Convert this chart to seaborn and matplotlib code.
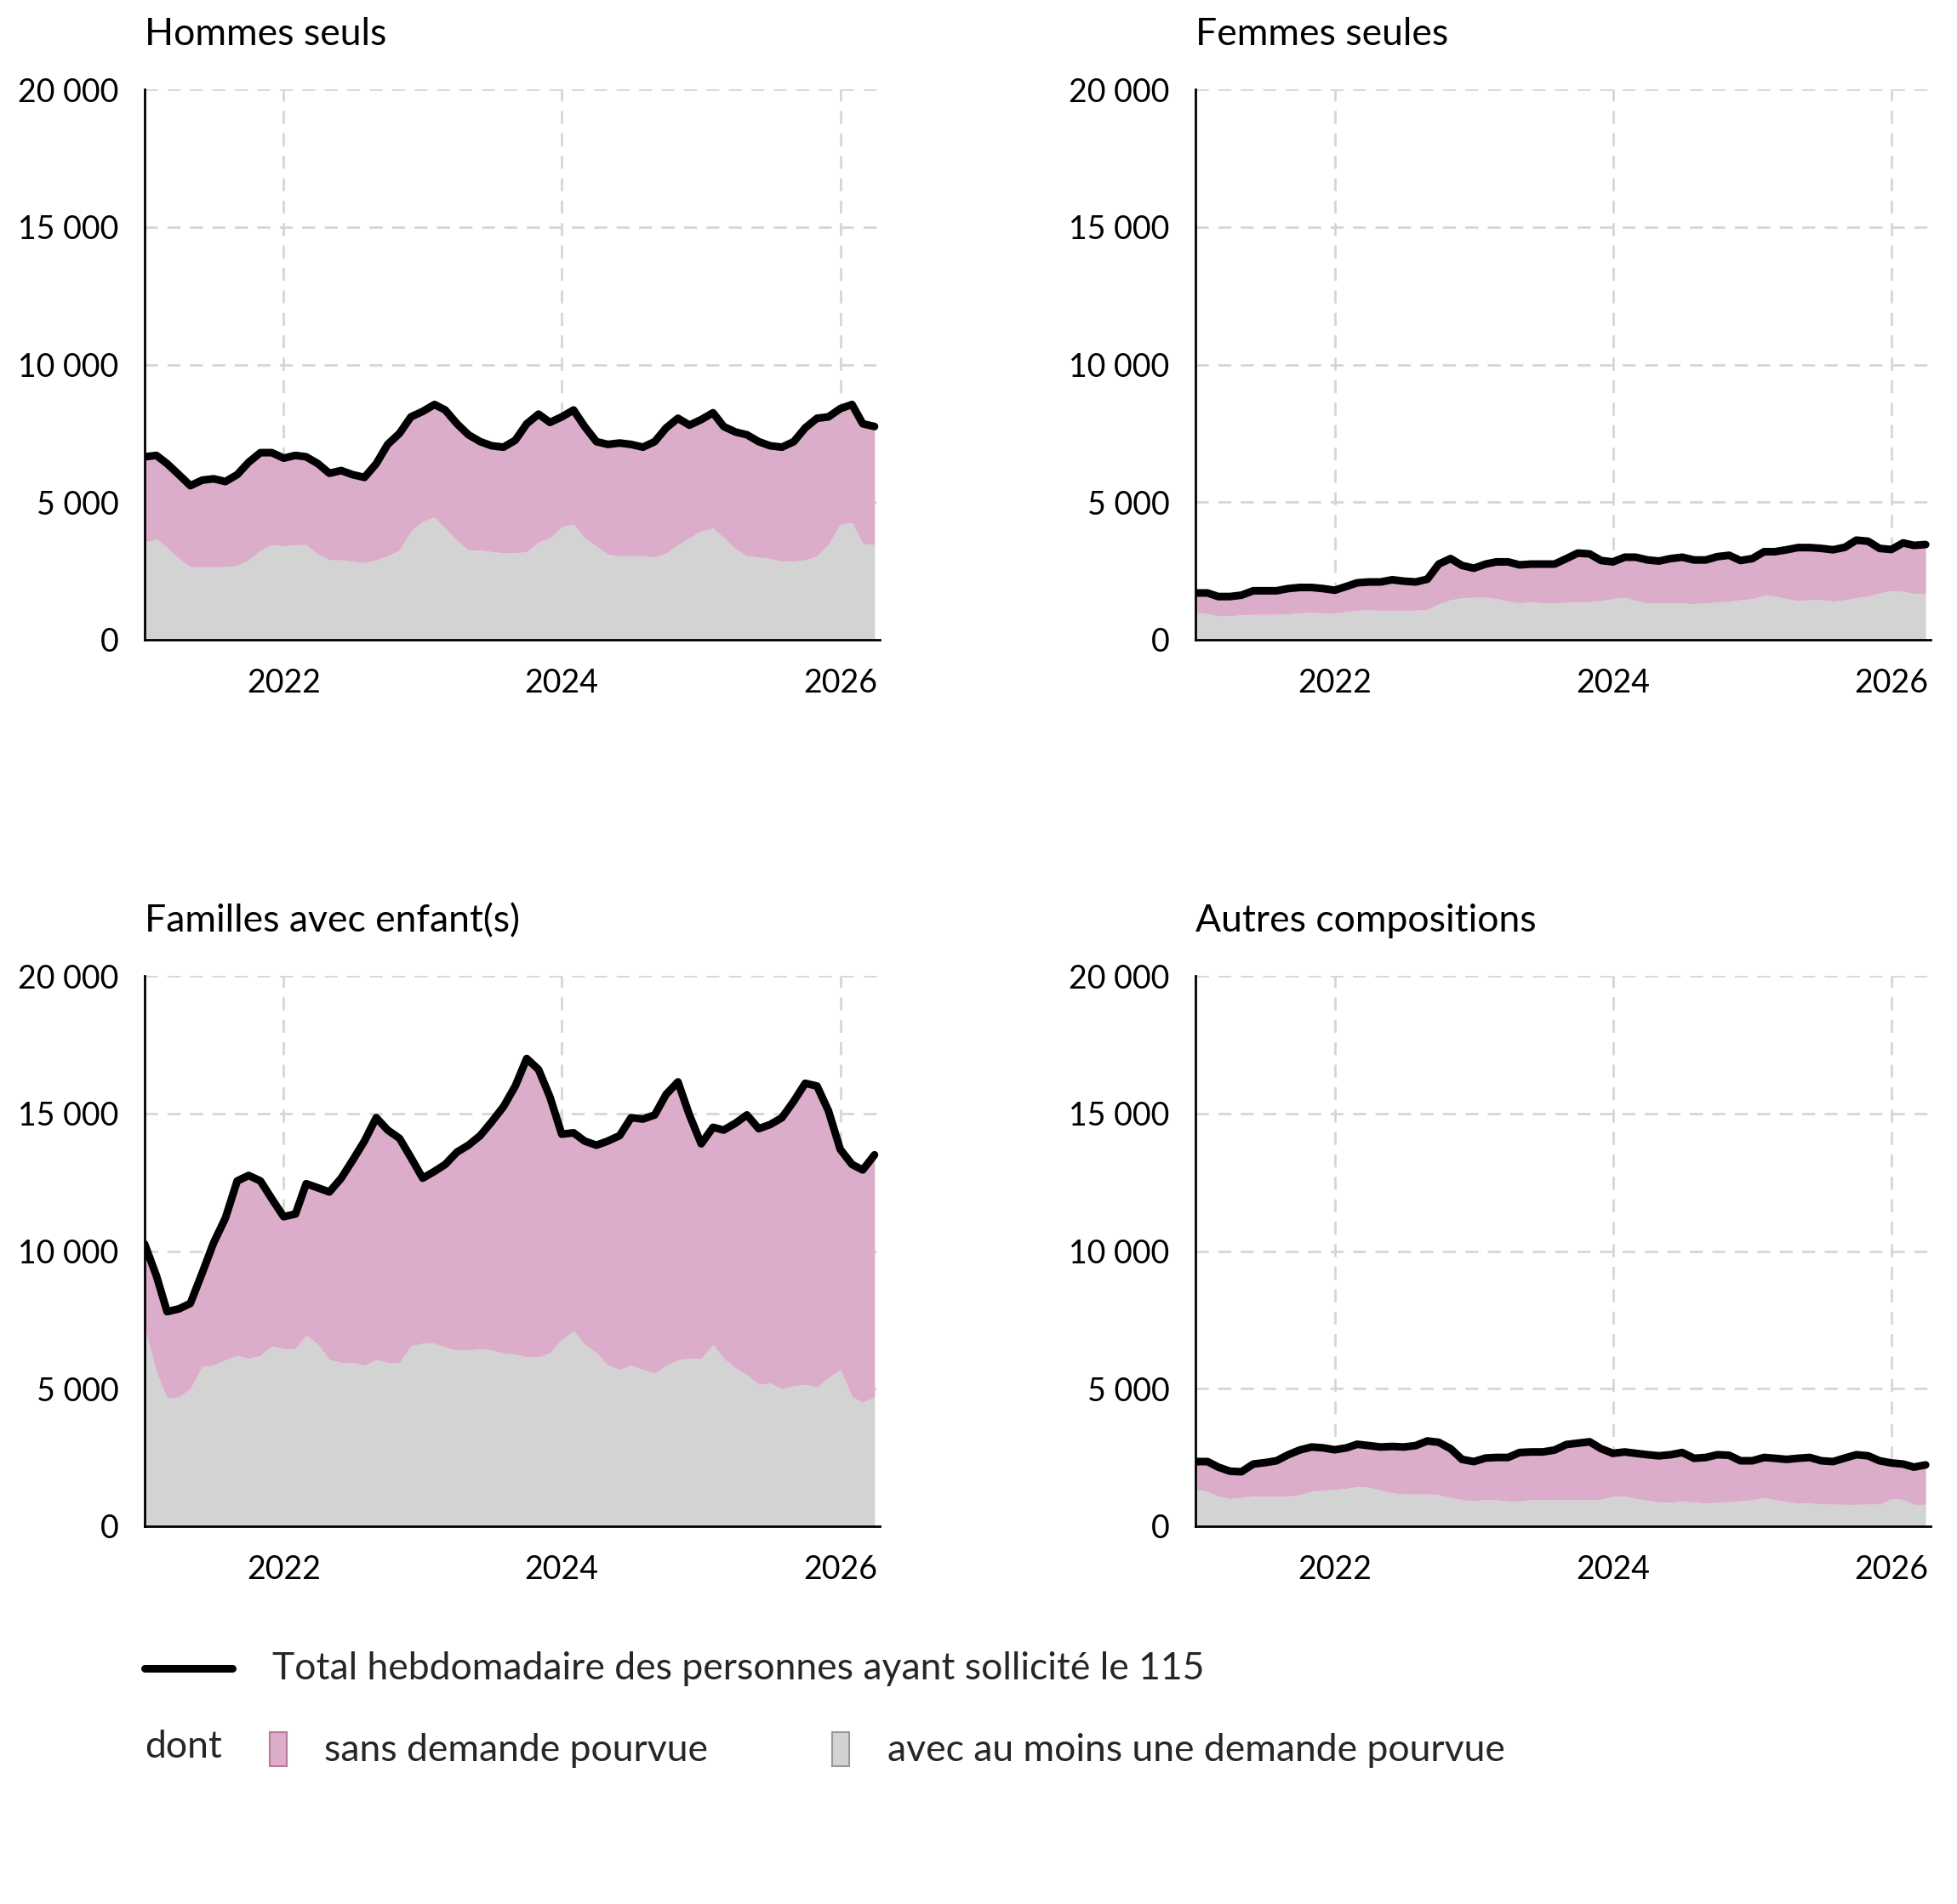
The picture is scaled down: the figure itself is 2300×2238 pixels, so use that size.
import pandas as pd
import numpy as np
import matplotlib.pyplot as plt
import matplotlib.dates as mdates
from matplotlib.lines import Line2D
from matplotlib.patches import Rectangle
import seaborn as sns

# monthly readings (thousands of persons), Jan 2021 -> Apr 2026
dates = pd.date_range("2021-01-01", periods=64, freq="MS")

hommes_total = [6.65, 6.7, 6.4, 6.0, 5.6, 5.8, 5.85, 5.75, 6.0, 6.45, 6.8, 6.8,
                6.6, 6.7, 6.65, 6.4, 6.05, 6.15, 6.0, 5.9, 6.4, 7.1, 7.5, 8.1,
                8.3, 8.55, 8.35, 7.85, 7.45, 7.2, 7.05, 7.0, 7.25, 7.85, 8.2, 7.9,
                8.1, 8.35, 7.75, 7.2, 7.1, 7.15, 7.1, 7.0, 7.2, 7.7, 8.05, 7.8,
                8.0, 8.25, 7.75, 7.55, 7.45, 7.2, 7.05, 7.0, 7.2, 7.7, 8.05, 8.1,
                8.4, 8.55, 7.85, 7.75]
hommes_pourvue = [3.55, 3.65, 3.35, 2.95, 2.65, 2.65, 2.65, 2.65, 2.7, 2.9, 3.25, 3.45,
                  3.4, 3.45, 3.45, 3.1, 2.9, 2.9, 2.85, 2.8, 2.9, 3.05, 3.25, 3.95,
                  4.3, 4.45, 4.05, 3.6, 3.25, 3.25, 3.2, 3.15, 3.15, 3.2, 3.55, 3.7,
                  4.1, 4.2, 3.7, 3.4, 3.1, 3.05, 3.05, 3.05, 3.0, 3.15, 3.45, 3.7,
                  3.95, 4.05, 3.7, 3.3, 3.05, 3.0, 2.95, 2.85, 2.85, 2.9, 3.05, 3.45,
                  4.2, 4.25, 3.5, 3.45]

femmes_total = [1.7, 1.7, 1.57, 1.57, 1.62, 1.78, 1.78, 1.78, 1.86, 1.9, 1.9, 1.86,
                1.8, 1.94, 2.07, 2.1, 2.1, 2.18, 2.13, 2.1, 2.2, 2.75, 2.95, 2.7,
                2.6, 2.75, 2.83, 2.83, 2.72, 2.75, 2.75, 2.75, 2.95, 3.15, 3.12, 2.88,
                2.83, 3.0, 3.0, 2.9, 2.86, 2.95, 3.0, 2.9, 2.9, 3.02, 3.07, 2.88,
                2.95, 3.2, 3.2, 3.27, 3.35, 3.35, 3.32, 3.27, 3.36, 3.62, 3.58, 3.32,
                3.28, 3.52, 3.43, 3.46]
femmes_pourvue = [1.0, 0.94, 0.86, 0.87, 0.9, 0.92, 0.92, 0.92, 0.94, 0.97, 1.0, 0.97,
                  0.97, 1.02, 1.07, 1.08, 1.07, 1.07, 1.07, 1.07, 1.1, 1.3, 1.45, 1.52,
                  1.54, 1.54, 1.49, 1.4, 1.34, 1.37, 1.34, 1.34, 1.36, 1.36, 1.37, 1.42,
                  1.49, 1.54, 1.42, 1.33, 1.33, 1.33, 1.33, 1.31, 1.33, 1.37, 1.4, 1.45,
                  1.49, 1.62, 1.58, 1.49, 1.42, 1.45, 1.45, 1.4, 1.45, 1.52, 1.58, 1.7,
                  1.78, 1.75, 1.68, 1.68]

familles_total = [10.26, 9.1, 7.8, 7.9, 8.1, 9.2, 10.3, 11.2, 12.55, 12.75, 12.55, 11.9,
                  11.25, 11.35, 12.45, 12.3, 12.15, 12.65, 13.3, 14.0, 14.85, 14.4, 14.1, 13.4,
                  12.65, 12.9, 13.15, 13.6, 13.85, 14.2, 14.7, 15.25, 16.0, 17.0, 16.6, 15.6,
                  14.25, 14.3, 14.0, 13.85, 14.0, 14.2, 14.85, 14.8, 14.95, 15.7, 16.15, 14.95,
                  13.9, 14.5, 14.4, 14.65, 14.95, 14.45, 14.6, 14.85, 15.45, 16.1, 16.0, 15.1,
                  13.7, 13.15, 12.95, 13.5]
familles_pourvue = [7.2, 5.6, 4.65, 4.7, 5.0, 5.8, 5.85, 6.05, 6.2, 6.1, 6.2, 6.55,
                    6.45, 6.45, 6.95, 6.6, 6.05, 5.95, 5.95, 5.85, 6.05, 5.95, 5.95, 6.55,
                    6.65, 6.65, 6.5, 6.4, 6.4, 6.45, 6.4, 6.3, 6.25, 6.15, 6.15, 6.3,
                    6.8, 7.1, 6.6, 6.3, 5.85, 5.7, 5.85, 5.7, 5.55, 5.85, 6.05, 6.1,
                    6.1, 6.6, 6.1, 5.75, 5.5, 5.15, 5.2, 5.0, 5.1, 5.15, 5.05, 5.4,
                    5.7, 4.7, 4.5, 4.7]

autres_total = [2.35, 2.35, 2.15, 2.0, 1.98, 2.26, 2.31, 2.38, 2.6, 2.77, 2.88, 2.85,
                2.78, 2.85, 2.98, 2.93, 2.88, 2.9, 2.88, 2.93, 3.1, 3.05, 2.82, 2.43,
                2.35, 2.48, 2.5, 2.5, 2.68, 2.7, 2.7, 2.77, 2.97, 3.02, 3.07, 2.82,
                2.65, 2.7, 2.65, 2.6, 2.56, 2.6, 2.68, 2.47, 2.5, 2.6, 2.58, 2.38,
                2.38, 2.5, 2.47, 2.43, 2.47, 2.5, 2.38, 2.35, 2.48, 2.6, 2.56, 2.38,
                2.3, 2.26, 2.15, 2.23]
autres_pourvue = [1.34, 1.26, 1.09, 1.0, 1.04, 1.09, 1.09, 1.09, 1.09, 1.14, 1.27, 1.31,
                  1.34, 1.37, 1.44, 1.41, 1.31, 1.21, 1.17, 1.17, 1.17, 1.14, 1.04, 0.96,
                  0.92, 0.97, 0.96, 0.91, 0.91, 0.97, 0.97, 0.96, 0.96, 0.96, 0.96, 0.97,
                  1.09, 1.09, 1.0, 0.94, 0.87, 0.87, 0.91, 0.87, 0.84, 0.87, 0.89, 0.92,
                  0.96, 1.04, 0.96, 0.89, 0.84, 0.84, 0.8, 0.8, 0.79, 0.79, 0.8, 0.8,
                  1.0, 0.97, 0.79, 0.79]

titles = ["Hommes seuls", "Femmes seules", "Familles avec enfant(s)", "Autres compositions"]
totals = [hommes_total, femmes_total, familles_total, autres_total]
pourvues = [hommes_pourvue, femmes_pourvue, familles_pourvue, autres_pourvue]

PINK = "#dcadca"
GREY = "#d3d3d3"
GRID = "#d6d6d6"

sns.set_theme(style="white")
plt.rcParams["font.family"] = ["Lato", "DejaVu Sans"]
FS = 32     # titles / legend
TFS = 27    # tick labels

fig = plt.figure(figsize=(23, 22.38), dpi=100)
positions = [(0.0739, 0.664), (0.611, 0.664), (0.0739, 0.1984), (0.611, 0.1984)]
W, H = 0.3757, 0.289

for i in range(4):
    ax = fig.add_axes([positions[i][0], positions[i][1], W, H])
    tot = np.array(totals[i]) * 1000
    pv = np.array(pourvues[i]) * 1000
    ax.fill_between(dates, 0, pv, color=GREY, lw=0, zorder=1)
    ax.fill_between(dates, pv, tot, color=PINK, lw=0, zorder=1)
    sns.lineplot(x=dates, y=tot, ax=ax, color="black", lw=6.5, zorder=3,
                 solid_capstyle="round", solid_joinstyle="round")
    ax.set_ylim(0, 20000)
    ax.set_xlim(pd.Timestamp("2021-01-01"), pd.Timestamp("2026-04-15"))
    ax.set_yticks([0, 5000, 10000, 15000, 20000])
    ax.set_yticklabels(["0", "5 000", "10 000", "15 000", "20 000"])
    ax.set_xticks([pd.Timestamp("2022-01-01"), pd.Timestamp("2024-01-01"), pd.Timestamp("2026-01-01")])
    ax.xaxis.set_major_formatter(mdates.DateFormatter("%Y"))
    ax.grid(True, color=GRID, lw=2, linestyle=(0, (5.5, 4)), zorder=0)
    ax.set_axisbelow(True)
    for s in ["top", "right"]:
        ax.spines[s].set_visible(False)
    for s in ["left", "bottom"]:
        ax.spines[s].set_color("black")
        ax.spines[s].set_linewidth(2)
        ax.spines[s].set_zorder(4)
    ax.tick_params(axis="y", length=0, pad=22, labelsize=TFS, colors="black")
    ax.tick_params(axis="x", length=0, pad=24, labelsize=TFS, colors="black")
    ax.set_xlabel("")
    ax.set_ylabel("")
    ax.text(0, 1.10, titles[i], transform=ax.transAxes, fontsize=FS,
            ha="left", va="center", color="black")

# legend
fw, fh = 2300, 2238
fig.add_artist(Line2D([170 / fw, 273 / fw], [1 - 1961 / fh, 1 - 1961 / fh],
                      color="black", lw=6.5, transform=fig.transFigure))
fig.text(320 / fw, 1 - 1961 / fh, "Total hebdomadaire des personnes ayant sollicité le 115",
         fontsize=FS, va="center", ha="left")
fig.text(170 / fw, 1 - 2054 / fh, "dont", fontsize=FS, va="center", ha="left")
fig.add_artist(Rectangle((317 / fw, 1 - 2076 / fh), 20 / fw, 40 / fh, transform=fig.transFigure,
                         facecolor=PINK, edgecolor="#b77a9c", lw=1.5))
fig.text(381 / fw, 1 - 2058 / fh, "sans demande pourvue", fontsize=FS, va="center", ha="left")
fig.add_artist(Rectangle((978 / fw, 1 - 2076 / fh), 20 / fw, 40 / fh, transform=fig.transFigure,
                         facecolor=GREY, edgecolor="#999999", lw=1.5))
fig.text(1043 / fw, 1 - 2058 / fh, "avec au moins une demande pourvue", fontsize=FS,
         va="center", ha="left")

fig.savefig("out.png", dpi=100, facecolor="white")
